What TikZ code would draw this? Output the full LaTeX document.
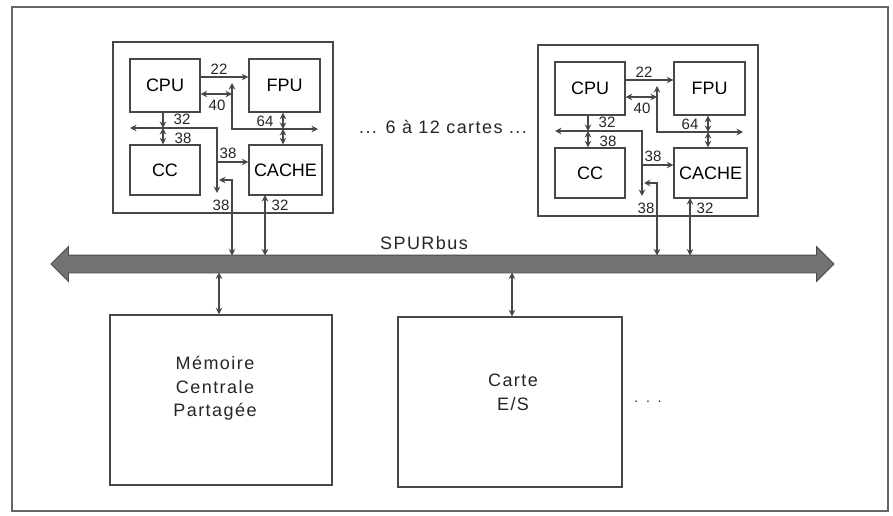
\documentclass[tikz,border=0pt]{standalone}
\usepackage{fontspec}
\setmainfont{Liberation Sans}
\newfontfamily\gen[LetterSpace=8]{Liberation Sans}
\usetikzlibrary{arrows.meta,shapes.arrows}
\newcommand\cardbody{%
  \node[box, minimum width=220pt, minimum height=171pt] (card) at (223,127.5) {};
  \node[unit, minimum width=70pt, minimum height=53pt] (cpu) at (165,85.5) {CPU};
  \node[unit, minimum width=71pt, minimum height=53pt] (fpu) at (284.5,85.5) {FPU};
  \node[unit, minimum width=70pt, minimum height=50pt] (cc) at (165,170) {CC};
  \node[unit, minimum width=73pt, minimum height=50pt] (cache) at (285.5,170) {CACHE};
  % 22
  \draw[conn, tip] (cpu.east |- 0,77) -- (fpu.west |- 0,77);
  \node[lbl] (l22) at (219,69) {22};
  % 40
  \coordinate (v40) at (232,83);
  \coordinate (c40) at (232,129);
  \coordinate (e40) at (318,129);
  \draw[conn, dtip] (cpu.east |- 0,94) -- (v40 |- 0,94);
  \draw[conn, dtip] (v40) -- (c40) -- (e40);
  \node[lbl] (l40) at (217,105) {40};
  % 64
  \coordinate (b64) at (283,129);
  \draw[conn, dtip] (fpu.south -| b64) -- (b64);
  \draw[conn, dtip] (b64) -- (cache.north -| b64);
  \node[lbl] (l64) at (265,121) {64};
  % 32 from CPU
  \coordinate (b32) at (163,128);
  \draw[conn, tip] (cpu.south -| b32) -- (b32);
  \node[lbl] (l32) at (182,119) {32};
  % internal bus
  \coordinate (lw) at (130,128);
  \coordinate (h38) at (217,128);
  \coordinate (d38) at (217,193);
  \draw[conn, dtip] (lw) -- (h38) -- (d38);
  \draw[conn, dtip] (b32) -- (cc.north -| b32);
  \node[lbl] (l38a) at (183,138) {38};
  \coordinate (s38) at (217,162);
  \draw[conn, tip] (s38) -- (cache.west |- s38);
  \node[lbl] (l38b) at (228,153) {38};
  % ports towards SPURbus
  \coordinate (pA) at (232,180);
  \coordinate (tA) at (219,180);
  \coordinate (pB) at (265,195);
  \node[lbl] (l38c) at (221,205) {38};
  \node[lbl] (l32b) at (280,205) {32};
}
\begin{document}
\begin{tikzpicture}[x=1pt,y=-1pt,
  box/.style={draw=black!72, line width=1.4pt, inner sep=0pt},
  unit/.style={box, font=\fontsize{18}{20}\selectfont},
  lbl/.style={font=\fontsize{15}{15}\selectfont, inner sep=0pt, text=black!85},
  conn/.style={draw=black!72, line width=1.3pt},
  tip/.style={-{Stealth[length=6.5pt,width=6.5pt]}},
  dtip/.style={{Stealth[length=6.5pt,width=6.5pt]}-{Stealth[length=6.5pt,width=6.5pt]}},
  big/.style={font=\gen\fontsize{18}{23.5}\selectfont, text=black!85, align=center, inner sep=0pt}]
\useasboundingbox (0,0) rectangle (893,516);
\fill[white] (0,0) rectangle (893,516);
\node[draw=black!60, line width=2.6pt, minimum width=876pt, minimum height=504pt, inner sep=0pt] (frame) at (450,259) {};

\begin{scope}[name prefix=L-]
  \cardbody
\end{scope}
\begin{scope}[shift={(425,3)}, name prefix=R-]
  \cardbody
\end{scope}

\node[big] (multi) at (443,127) {... 6 à 12 cartes ...};

% SPURbus
\node[shape=double arrow, double arrow head extend=8.5pt, double arrow tip angle=90,
  minimum height=783pt, inner xsep=0pt, inner ysep=8.5pt, fill=black!55, draw=black!70,
  line width=0.8pt] (bus) at (442.5,264) {};
\coordinate (bustop) at (442.5,255.5);
\coordinate (busbot) at (442.5,272.5);
\node[big] (spur) at (424,243) {SPURbus};

\draw[conn, dtip] (L-pA |- bustop) -- (L-pA) -- (L-tA);
\draw[conn, dtip] (L-pB |- bustop) -- (L-pB);
\draw[conn, dtip] (R-pA |- bustop) -- (R-pA) -- (R-tA);
\draw[conn, dtip] (R-pB |- bustop) -- (R-pB);

% bottom boards
\node[box, minimum width=222pt, minimum height=170pt] (mem) at (221,400) {};
\node[big] (memtxt) at (215,388.5) {Mémoire\\Centrale\\Partagée};
\node[box, minimum width=224pt, minimum height=170pt] (io) at (510,402) {};
\node[big] (iotxt) at (513,392.5) {Carte\\E/S};
\node[big, font=\fontsize{14}{14}\selectfont] (dots) at (648,402) {.\ \ .\ \ .};

\coordinate (mA) at (219,272.5);
\coordinate (iA) at (512,272.5);
\draw[conn, dtip] (mA |- busbot) -- (mem.north -| mA);
\draw[conn, dtip] (iA |- busbot) -- (io.north -| iA);
\end{tikzpicture}
\end{document}
